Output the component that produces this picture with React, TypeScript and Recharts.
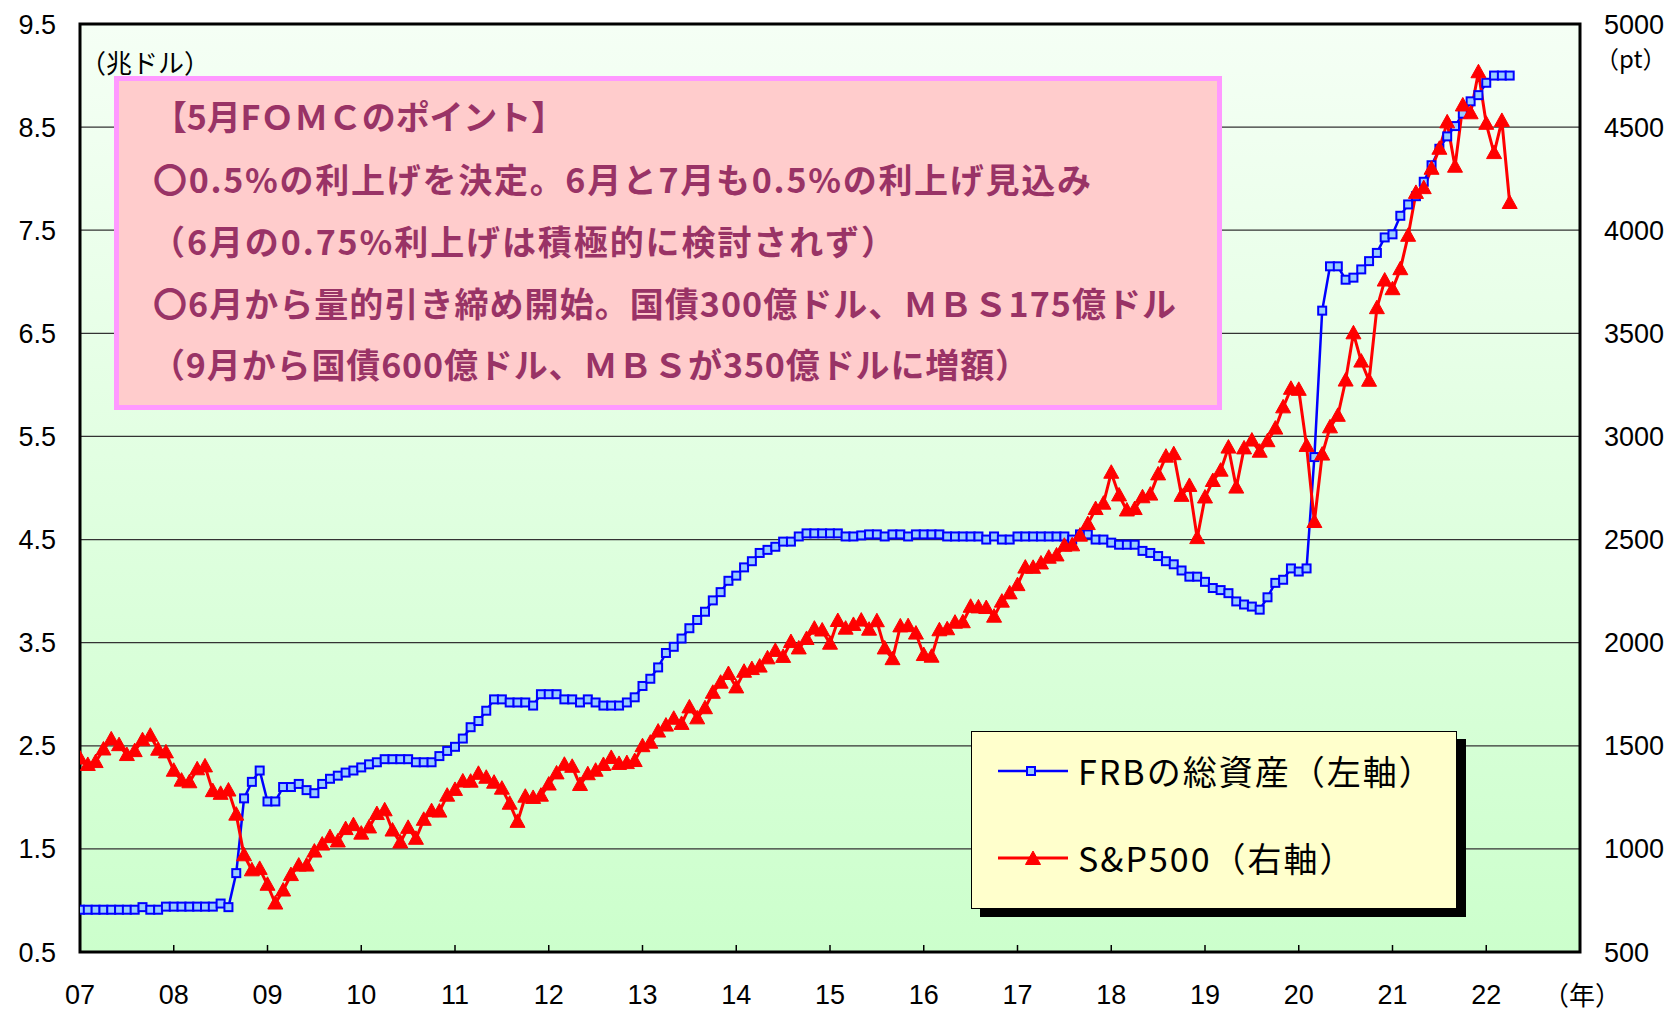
import React from "react";
import { LineChart, Line, XAxis, YAxis, CartesianGrid, ReferenceArea, Legend } from "recharts";

const START_YEAR = 2007;

// FRB total assets, trillion dollars, monthly Jan 2007 - Apr 2022
const frbAssets = [
  0.91, 0.91, 0.91, 0.91, 0.91, 0.91, 0.91, 0.91, 0.935, 0.91, 0.91, 0.94,
  0.94, 0.94, 0.94, 0.94, 0.94, 0.94, 0.97, 0.935, 1.265, 1.99, 2.15, 2.26,
  1.96, 1.96, 2.1, 2.1, 2.13, 2.07, 2.04, 2.13, 2.18, 2.21, 2.24, 2.26,
  2.29, 2.32, 2.34, 2.37, 2.37, 2.37, 2.37, 2.34, 2.34, 2.34, 2.4, 2.45,
  2.49, 2.57, 2.68, 2.74, 2.84, 2.95, 2.95, 2.92, 2.92, 2.92, 2.89, 3.0,
  3.0, 3.0, 2.95, 2.95, 2.92, 2.95, 2.92, 2.89, 2.89, 2.89, 2.92, 2.97,
  3.08, 3.15, 3.26, 3.4, 3.46, 3.54, 3.64, 3.72, 3.8, 3.91, 3.99, 4.1,
  4.15, 4.23, 4.29, 4.37, 4.4, 4.43, 4.48, 4.48, 4.53, 4.56, 4.56, 4.56,
  4.56, 4.56, 4.53, 4.53, 4.54, 4.55, 4.55, 4.53, 4.55, 4.55, 4.53, 4.55,
  4.55, 4.55, 4.55, 4.53, 4.53, 4.53, 4.53, 4.53, 4.5, 4.53, 4.5, 4.5,
  4.53, 4.53, 4.53, 4.53, 4.53, 4.53, 4.53, 4.5, 4.55, 4.55, 4.5, 4.5,
  4.47, 4.45, 4.45, 4.45, 4.39, 4.37, 4.34, 4.29, 4.26, 4.2, 4.14, 4.14,
  4.09, 4.03, 4.01, 3.98, 3.9, 3.87, 3.85, 3.82, 3.94, 4.08, 4.11, 4.22,
  4.19, 4.22, 5.3, 6.72, 7.15, 7.15, 7.02, 7.04, 7.12, 7.2, 7.28, 7.43,
  7.46, 7.64, 7.75, 7.83, 7.97, 8.13, 8.29, 8.41, 8.51, 8.63, 8.75, 8.81,
  8.93, 9.0, 9.0, 9.0,
];

// S&P500, points, monthly Jan 2007 - Apr 2022
const sp500 = [
  1438, 1407, 1421, 1482, 1531, 1503, 1455, 1474, 1527, 1549, 1481, 1468,
  1379, 1331, 1323, 1386, 1400, 1280, 1267, 1283, 1166, 969, 896, 903,
  826, 735, 798, 873, 919, 919, 987, 1021, 1057, 1036, 1096, 1115,
  1074, 1104, 1169, 1187, 1089, 1031, 1102, 1049, 1141, 1183, 1181, 1258,
  1286, 1327, 1326, 1364, 1345, 1321, 1292, 1219, 1131, 1253, 1247, 1258,
  1312, 1366, 1408, 1398, 1310, 1362, 1379, 1407, 1441, 1412, 1416, 1426,
  1498, 1515, 1569, 1598, 1631, 1606, 1686, 1633, 1682, 1757, 1806, 1848,
  1783, 1859, 1872, 1884, 1924, 1960, 1931, 2003, 1972, 2018, 2068, 2059,
  1995, 2105, 2068, 2086, 2107, 2063, 2104, 1972, 1920, 2079, 2080, 2044,
  1940, 1932, 2060, 2065, 2097, 2099, 2174, 2171, 2168, 2126, 2199, 2239,
  2279, 2364, 2363, 2384, 2412, 2423, 2470, 2472, 2519, 2575, 2648, 2674,
  2824, 2714, 2641, 2648, 2705, 2718, 2816, 2902, 2914, 2712, 2760, 2507,
  2704, 2784, 2834, 2946, 2752, 2942, 2980, 2926, 2977, 3038, 3141, 3231,
  3226, 2954, 2585, 2912, 3044, 3100, 3271, 3500, 3363, 3270, 3622, 3756,
  3714, 3811, 3973, 4181, 4204, 4298, 4395, 4523, 4308, 4605, 4567, 4766,
  4516, 4374, 4530, 4132,
];

const yearTicks = [2007, 2008, 2009, 2010, 2011, 2012, 2013, 2014, 2015, 2016, 2017, 2018, 2019, 2020, 2021, 2022];
const yearLabels = ["07", "08", "09", "10", "11", "12", "13", "14", "15", "16", "17", "18", "19", "20", "21", "22"];
const leftTicks = [0.5, 1.5, 2.5, 3.5, 4.5, 5.5, 6.5, 7.5, 8.5, 9.5];
const rightTicks = [500, 1000, 1500, 2000, 2500, 3000, 3500, 4000, 4500, 5000];

const noteLines = [
  "【5月FＯＭＣのポイント】",
  "〇0.5%の利上げを決定。6月と7月も0.5%の利上げ見込み",
  "（6月の0.75%利上げは積極的に検討されず）",
  "〇6月から量的引き締め開始。国債300億ドル、ＭＢＳ175億ドル",
  "（9月から国債600億ドル、ＭＢＳが350億ドルに増額）",
];
// start x, text length, centre y of each note line
const noteLayout = [
  [153, 412, 115],
  [153, 938, 178],
  [151, 744, 240],
  [153, 1023, 302],
  [151, 878, 363],
];

const data = frbAssets.map((v, i) => ({ t: START_YEAR + i / 12, frb: v, sp: sp500[i] }));

const NUM_FONT = '"Liberation Sans", Arial, sans-serif';
const JP_FONT = '"Noto Sans CJK JP", "Noto Sans", sans-serif';

const Square = ({ cx, cy }: { cx: number; cy: number }) => (
  <rect x={cx - 4} y={cy - 4} width={8} height={8} fill="#99ccff" stroke="#0000ff" strokeWidth={2} />
);

const Triangle = ({ cx, cy }: { cx: number; cy: number }) => (
  <polygon points={`${cx},${cy - 8} ${cx - 7.5},${cy + 5.5} ${cx + 7.5},${cy + 5.5}`} fill="#ff0000" stroke="#ff0000" strokeWidth={1} />
);

const renderSquare = (p: any) => <Square key={`s-${p.index}`} cx={p.cx} cy={p.cy} />;
const renderTriangle = (p: any) => <Triangle key={`t-${p.index}`} cx={p.cx} cy={p.cy} />;

const YearTick = ({ x, y, payload }: any) => {
  const idx = yearTicks.indexOf(payload.value);
  return (
    <g>
      {payload.value > 2007 && <line x1={x} x2={x} y1={y} y2={y - 7} stroke="#000" strokeWidth={1.5} />}
      <text x={x} y={y + 43} textAnchor="middle" dominantBaseline="central" fontSize={27} fontFamily={NUM_FONT} fill="#000">
        {yearLabels[idx]}
      </text>
    </g>
  );
};

const legendOrder = ["frb", "sp"];

const LegendBox = ({ payload }: any) => {
  const items = [...(payload || [])].sort(
    (a: any, b: any) => legendOrder.indexOf(a.dataKey) - legendOrder.indexOf(b.dataKey)
  );
  return (
    <div
      style={{
        position: "relative",
        width: 486,
        height: 178,
        boxSizing: "border-box",
        background: "#ffffcc",
        border: "1.5px solid #000",
        boxShadow: "9px 8px 0 #000",
      }}
    >
      {items.map((item: any, i: number) => (
        <div
          key={item.dataKey}
          style={{ position: "absolute", left: 26, top: 39 + i * 87 - 22, height: 44, display: "flex", alignItems: "center" }}
        >
          <svg width={70} height={20}>
            <line x1={0} x2={70} y1={10} y2={10} stroke={item.color} strokeWidth={item.dataKey === "sp" ? 3 : 2.5} />
            {item.dataKey === "sp" ? <Triangle cx={35} cy={11} /> : <Square cx={33} cy={10} />}
          </svg>
          <span
            style={{
              marginLeft: 10,
              fontSize: 34,
              fontFamily: JP_FONT,
              letterSpacing: 2,
              color: "#000",
              whiteSpace: "nowrap",
              lineHeight: 1,
            }}
          >
            {item.value}
          </span>
        </div>
      ))}
    </div>
  );
};

export default function App() {
  return (
    <div style={{ position: "absolute", left: 0, top: 0, width: 1674, height: 1010, background: "#fff" }}>
      <LineChart width={1674} height={1010} data={data} margin={{ top: 24, right: 0, bottom: 0, left: 0 }}>
        <defs>
          <linearGradient id="plotBg" x1="0" y1="0" x2="0" y2="1">
            <stop offset="0%" stopColor="#f5fff5" />
            <stop offset="100%" stopColor="#ccffcc" />
          </linearGradient>
        </defs>
        <CartesianGrid yAxisId="left" vertical={false} stroke="#333" strokeWidth={1.2} fill="url(#plotBg)" fillOpacity={1} />
        <XAxis
          dataKey="t"
          type="number"
          domain={[2007, 2023]}
          ticks={yearTicks}
          interval={0}
          height={58}
          tickSize={0}
          tickMargin={0}
          axisLine={false}
          tickLine={false}
          tick={<YearTick />}
          allowDataOverflow
        />
        <YAxis
          yAxisId="left"
          orientation="left"
          width={80}
          domain={[0.5, 9.5]}
          ticks={leftTicks}
          interval={0}
          tickSize={0}
          tickMargin={24}
          axisLine={false}
          tickLine={false}
          tickFormatter={(v: number) => v.toFixed(1)}
          tick={{ fill: "#000", fontSize: 27, fontFamily: NUM_FONT }}
          allowDataOverflow
        />
        <YAxis
          yAxisId="right"
          orientation="right"
          width={94}
          domain={[500, 5000]}
          ticks={rightTicks}
          interval={0}
          tickSize={0}
          tickMargin={24}
          axisLine={false}
          tickLine={false}
          tick={{ fill: "#000", fontSize: 27, fontFamily: NUM_FONT, textAnchor: "start" }}
          allowDataOverflow
        />
        <Line
          yAxisId="left"
          dataKey="frb"
          name="FRBの総資産（左軸）"
          stroke="#0000ff"
          strokeWidth={2.5}
          dot={renderSquare}
          activeDot={false}
          isAnimationActive={false}
        />
        <Line
          yAxisId="right"
          dataKey="sp"
          name="S&P500（右軸）"
          stroke="#ff0000"
          strokeWidth={3}
          dot={renderTriangle}
          activeDot={false}
          isAnimationActive={false}
        />
        <ReferenceArea
          yAxisId="left"
          x1={2007}
          x2={2023}
          y1={0.5}
          y2={9.5}
          fill="none"
          stroke="#000"
          strokeWidth={3}
          ifOverflow="visible"
        />
        <Legend
          layout="vertical"
          align="center"
          verticalAlign="middle"
          content={<LegendBox />}
          wrapperStyle={{ left: 971, top: 731, width: 486, height: 178 }}
        />
      </LineChart>

      <svg width={1674} height={1010} style={{ position: "absolute", left: 0, top: 0, pointerEvents: "none" }}>
        <text x={80} y={61} dominantBaseline="central" fontSize={26} fontFamily={JP_FONT} fill="#000">
          （兆ドル）
        </text>
        <text x={1595} y={57} dominantBaseline="central" fontSize={24} fontFamily={JP_FONT} fill="#000">
          （pt）
        </text>
        <text x={1582} y={993} textAnchor="middle" dominantBaseline="central" fontSize={26} fontFamily={JP_FONT} fill="#000">
          （年）
        </text>
        <rect x={116.5} y={78.5} width={1103} height={329} fill="#ffcccc" stroke="#ff99ff" strokeWidth={5} />
        {noteLines.map((line, i) => (
          <text
            key={i}
            x={noteLayout[i][0]}
            y={noteLayout[i][2]}
            textLength={noteLayout[i][1]}
            lengthAdjust="spacing"
            dominantBaseline="central"
            fontSize={34}
            fontWeight={700}
            fontFamily={JP_FONT}
            fill="#993366"
          >
            {line}
          </text>
        ))}
      </svg>
    </div>
  );
}
